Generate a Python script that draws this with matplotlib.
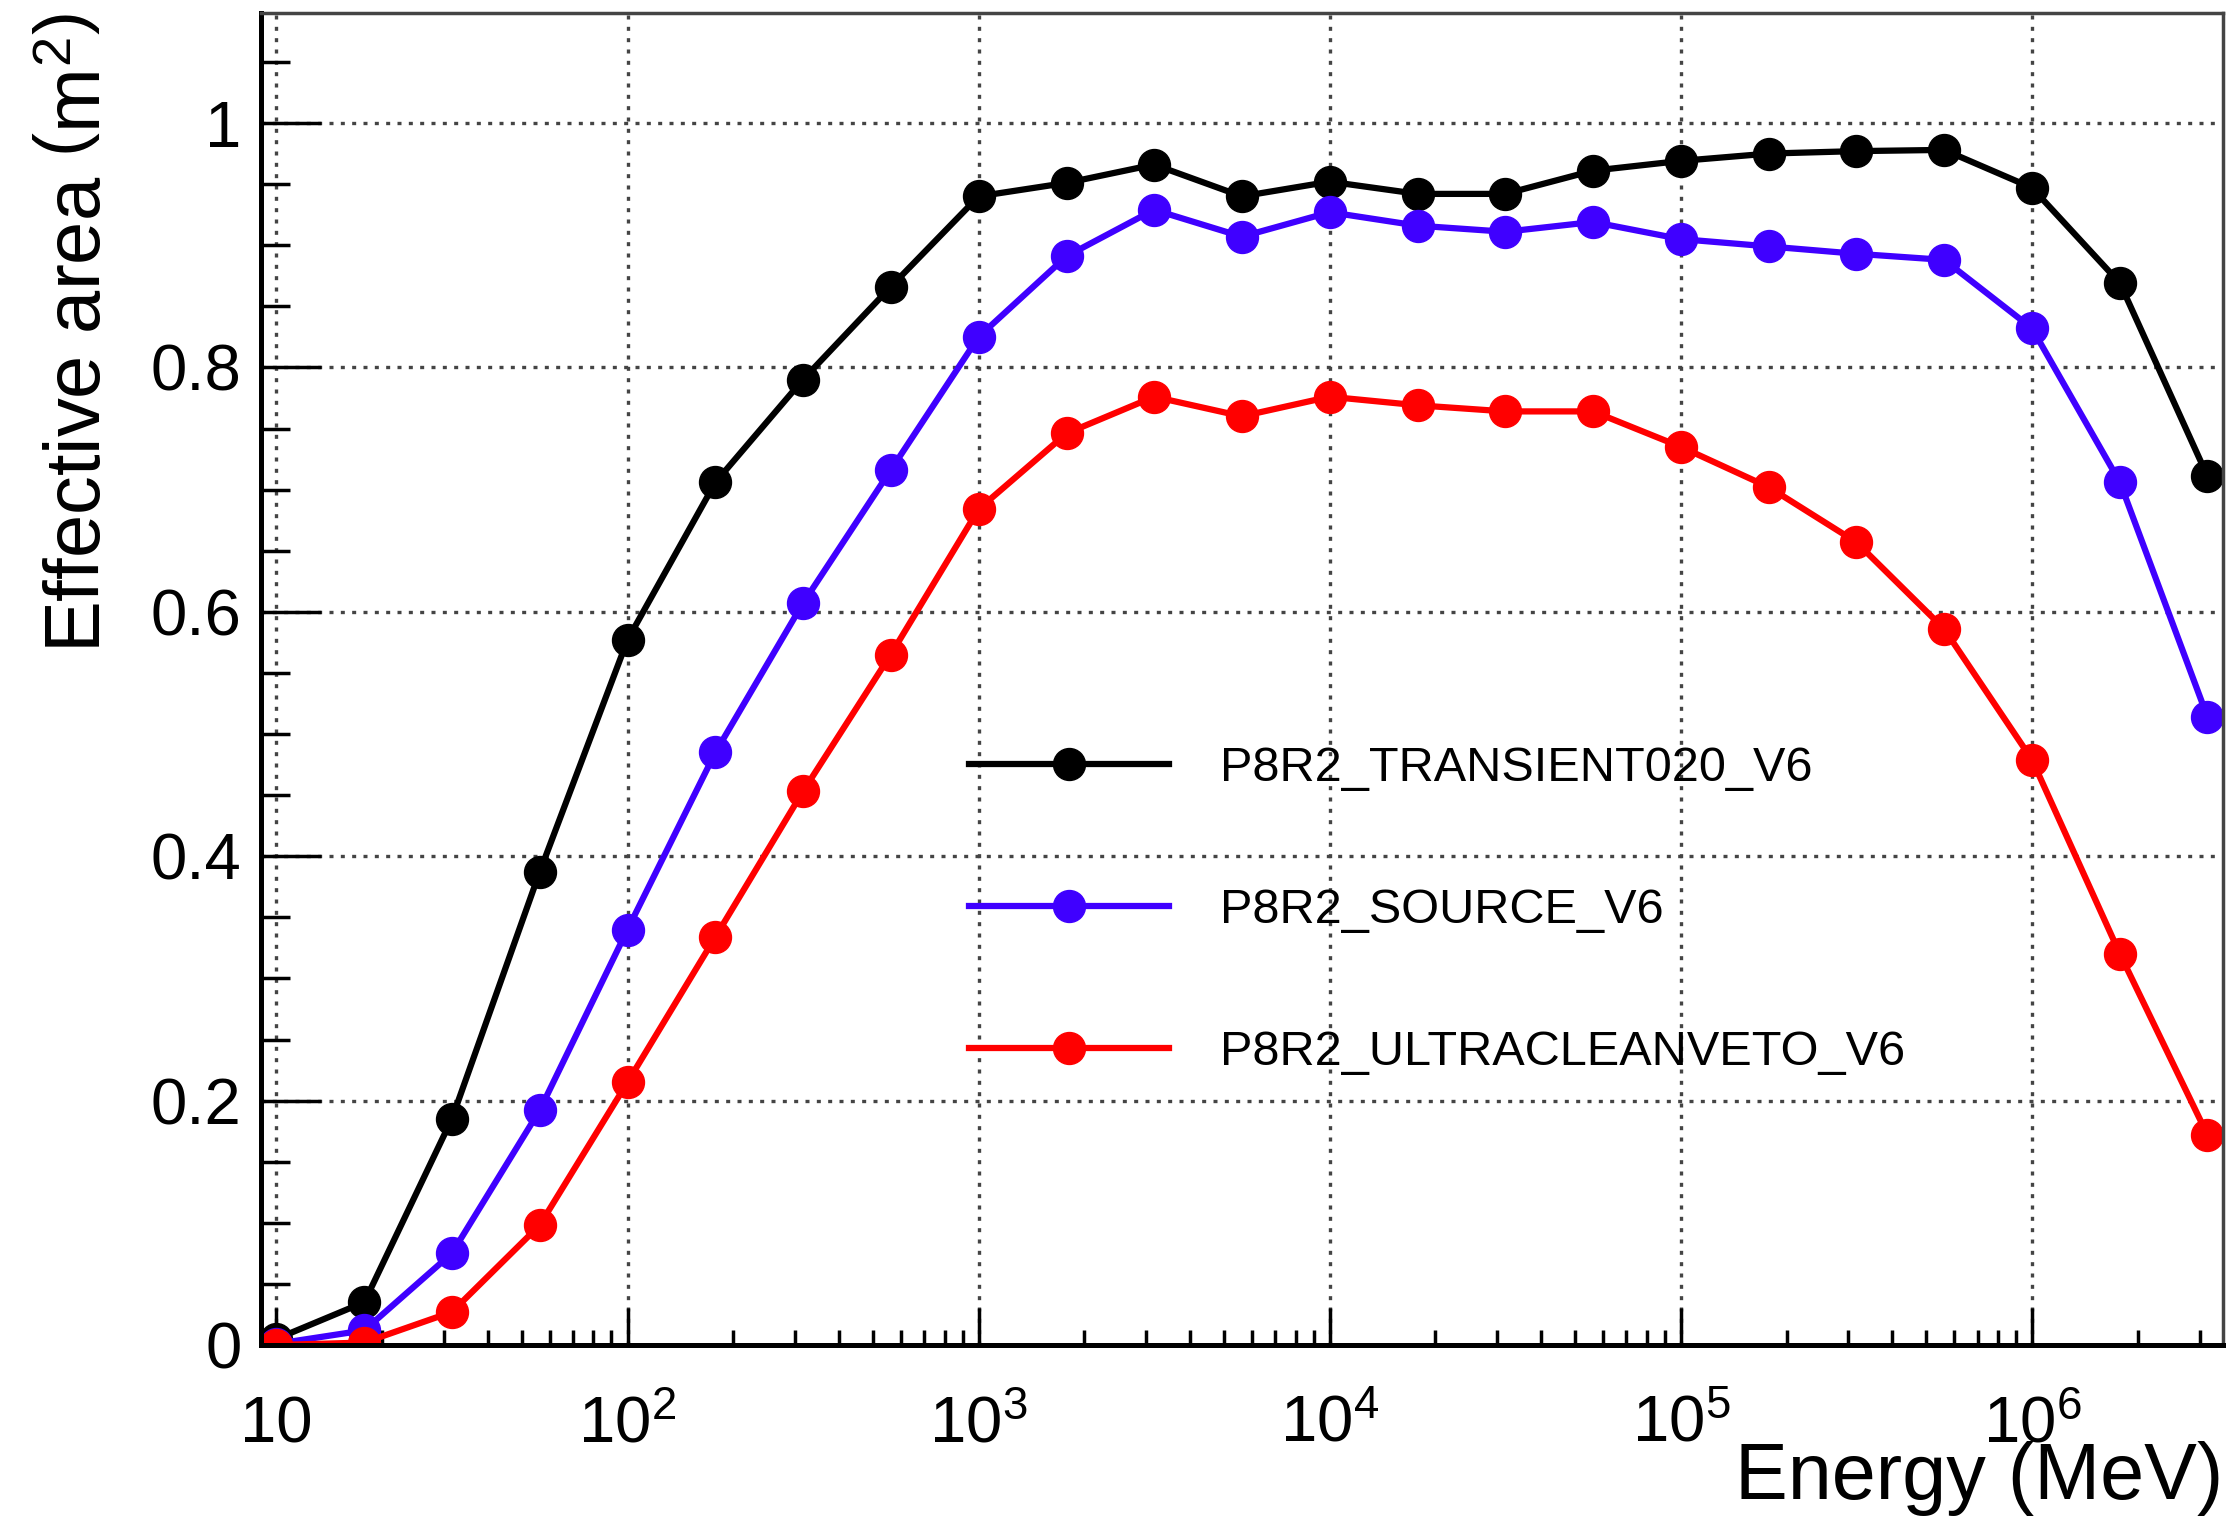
import matplotlib
matplotlib.use("Agg")
import matplotlib.pyplot as plt
from matplotlib.ticker import FixedLocator, LogLocator, MultipleLocator, NullFormatter
import numpy as np

plt.rcParams['font.family'] = ['Liberation Sans', 'DejaVu Sans']
plt.rcParams['mathtext.fontset'] = 'custom'
plt.rcParams['mathtext.rm'] = 'Liberation Sans'
plt.rcParams['mathtext.it'] = 'Liberation Sans:italic'
plt.rcParams['mathtext.default'] = 'regular'

# energy bins (MeV), quarter-decade steps
energy = [10, 17.8, 31.6, 56.2, 100, 178, 316, 562, 1000, 1780, 3160, 5620,
          1e4, 1.78e4, 3.16e4, 5.62e4, 1e5, 1.78e5, 3.16e5, 5.62e5, 1e6, 1.78e6, 3.16e6]

transient = [0.005, 0.035, 0.185, 0.387, 0.577, 0.706, 0.790, 0.866, 0.940, 0.951, 0.966, 0.940,
             0.952, 0.942, 0.942, 0.961, 0.969, 0.975, 0.977, 0.978, 0.947, 0.869, 0.711]
source = [0.001, 0.012, 0.075, 0.192, 0.340, 0.485, 0.607, 0.716, 0.825, 0.891, 0.929, 0.907,
          0.927, 0.916, 0.911, 0.919, 0.905, 0.899, 0.893, 0.888, 0.832, 0.706, 0.514]
ultraclean = [0.0, 0.002, 0.027, 0.098, 0.215, 0.334, 0.453, 0.565, 0.684, 0.746, 0.776, 0.760,
              0.776, 0.769, 0.764, 0.764, 0.735, 0.702, 0.657, 0.586, 0.479, 0.320, 0.172]

names = ["P8R2_TRANSIENT020_V6", "P8R2_SOURCE_V6", "P8R2_ULTRACLEANVETO_V6"]
colors = ["black", "#3f00ff", "#ff0000"]

fig = plt.figure(figsize=(22.38, 15.16), dpi=100)
ax = fig.add_axes([0.1166, 0.1128, 0.8767, 0.8786])

for ys, name, c in zip([transient, source, ultraclean], names, colors):
    ax.plot(energy, ys, color=c, lw=4.5, marker='o', ms=23, label=name)

ax.set_xscale('log')
ax.set_xlim(10**0.956, 10**6.544)
ax.set_ylim(0, 1.09)

# grid
ax.grid(True, which='major', color='#444444', linestyle=(0, (1.2, 2.2)), lw=2.4)

# ticks, ROOT style: inside, left and bottom only
ax.xaxis.set_major_locator(FixedLocator([10, 1e2, 1e3, 1e4, 1e5, 1e6]))
ax.xaxis.set_minor_locator(LogLocator(base=10, subs=np.arange(2, 10), numticks=20))
ax.xaxis.set_minor_formatter(NullFormatter())
ax.set_xticklabels(["10", r"$10^{2}$", r"$10^{3}$", r"$10^{4}$", r"$10^{5}$", r"$10^{6}$"],
                   va='baseline')
ax.yaxis.set_major_locator(FixedLocator([0, 0.2, 0.4, 0.6, 0.8, 1.0]))
ax.yaxis.set_minor_locator(MultipleLocator(0.05))
ax.set_yticklabels(["0", "0.2", "0.4", "0.6", "0.8", "1"])

ax.tick_params(axis='x', which='major', direction='in', length=27, width=2.5, labelsize=47, pad=70)
ax.tick_params(axis='x', which='minor', direction='in', length=11, width=2.5)
ax.tick_params(axis='y', which='major', direction='in', length=43, width=2.5, labelsize=47, pad=14)
ax.tick_params(axis='y', which='minor', direction='in', length=21, width=2.5)

for s in ['left', 'bottom']:
    ax.spines[s].set_linewidth(3.6)
for s in ['top', 'right']:
    ax.spines[s].set_linewidth(2.5)
    ax.spines[s].set_color('#444444')

ax.set_ylabel(r"Effective area $\left(m^{2}\right)$", fontsize=56, loc='top', labelpad=24)
ax.set_xlabel("Energy (MeV)", fontsize=57, loc='right', labelpad=-10)

ax.legend(loc='center left', bbox_to_anchor=(0.361, 0.326), frameon=False, fontsize=35,
          numpoints=1, handlelength=4.1, handletextpad=1.05, labelspacing=2.0,
          borderpad=0, borderaxespad=0)

fig.savefig("out.png", dpi=100)
